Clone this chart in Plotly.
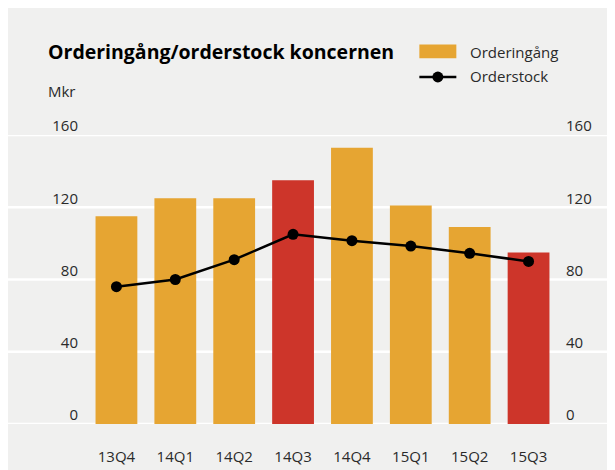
import plotly.graph_objects as go

categories = ["13Q4", "14Q1", "14Q2", "14Q3", "14Q4", "15Q1", "15Q2", "15Q3"]
orderingang = [115, 125, 125, 135, 153, 121, 109, 95]
orderstock = [76, 80, 91, 105, 101.5, 98.5, 94.5, 90]
y_ticks = [0, 40, 80, 120, 160]

ORANGE = "#e6a532"
RED = "#cd352a"
BG = "#f0f0ef"
TXT = "#2a2a2a"
FONT = "Open Sans"

bar_colors = [RED if c.endswith("Q3") else ORANGE for c in categories]

W, H = 615, 470
OFF = 8  # page body margin
L, R, T, B = 78.5, 65.3, 127, 49
pw = W - L - R
ph = H - T - B


def px(x):
    return (x - OFF - L) / pw


def py(y):
    return (H - B - (y - OFF)) / ph


fig = go.Figure()
fig.add_trace(go.Bar(x=categories, y=orderingang, marker=dict(color=bar_colors, line=dict(width=0)),
                     name="Orderingång", showlegend=False, yaxis="y"))
fig.add_trace(go.Scatter(x=categories, y=orderstock, mode="lines+markers", name="Orderstock",
                         line=dict(color="black", width=2.5), marker=dict(color="black", size=11),
                         showlegend=False, yaxis="y2", cliponaxis=False))

shapes = []
for t in y_ticks:
    shapes.append(dict(type="line", xref="paper", yref="y", x0=px(0), x1=px(W + 20), y0=t, y1=t,
                       line=dict(color="white", width=2.5), layer="below"))
# custom legend
shapes.append(dict(type="rect", xref="paper", yref="paper", x0=px(419), x1=px(456), y0=py(57), y1=py(43),
                   fillcolor=ORANGE, line=dict(width=0)))
shapes.append(dict(type="line", xref="paper", yref="paper", x0=px(419), x1=px(456), y0=py(76), y1=py(76),
                   line=dict(color="black", width=2.5)))
shapes.append(dict(type="circle", xref="paper", yref="paper", x0=px(437.5 - 5.5), x1=px(437.5 + 5.5),
                   y0=py(76 + 5.5), y1=py(76 - 5.5), fillcolor="black", line=dict(width=0)))

annotations = [
    dict(text="<b>Orderingång/orderstock koncernen</b>", xref="paper", yref="paper", x=px(45), y=py(50),
         xanchor="left", yanchor="middle", showarrow=False, font=dict(size=19.5, color="black", family=FONT)),
    dict(text="Mkr", xref="paper", yref="paper", x=px(45), y=py(90), xanchor="left", yanchor="middle",
         showarrow=False, font=dict(size=15, color=TXT, family=FONT)),
    dict(text="Orderingång", xref="paper", yref="paper", x=px(468), y=py(51), xanchor="left", yanchor="middle",
         showarrow=False, font=dict(size=15, color=TXT, family=FONT)),
    dict(text="Orderstock", xref="paper", yref="paper", x=px(468), y=py(75), xanchor="left", yanchor="middle",
         showarrow=False, font=dict(size=15, color=TXT, family=FONT)),
]

axis_font = dict(size=15, color=TXT, family=FONT)
fig.update_layout(
    width=W, height=H,
    margin=dict(l=L, r=R, t=T, b=B, pad=0),
    paper_bgcolor=BG, plot_bgcolor="rgba(0,0,0,0)",
    bargap=0.29,
    shapes=shapes, annotations=annotations,
    xaxis=dict(type="category", range=[-0.5, 7.5], showgrid=False, zeroline=False, showline=False,
               ticks="", tickfont=axis_font, ticklabelstandoff=22),
    yaxis=dict(range=[0, 160], tickvals=y_ticks, showgrid=False, zeroline=False, showline=False,
               ticks="", tickfont=axis_font, ticklabelstandoff=8, ticklabelshift=-9),
    yaxis2=dict(range=[0, 160], tickvals=y_ticks, overlaying="y", side="right", showgrid=False,
                zeroline=False, showline=False, ticks="", tickfont=axis_font, ticklabelstandoff=7,
                ticklabelshift=-9),
    showlegend=False,
)

fig.write_html("out.html")
